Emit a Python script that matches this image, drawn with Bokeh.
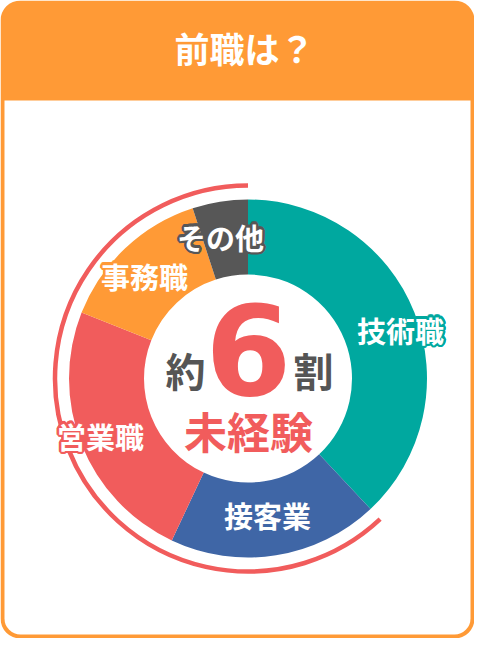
import numpy as np
from bokeh.plotting import figure
from bokeh.models import ColumnDataSource, Range1d
from bokeh.core.properties import value
from bokeh.embed import file_html
from bokeh.resources import INLINE

# data
jobs = ["技術職", "接客業", "営業職", "事務職", "その他"]
shares = [38, 19, 24, 14, 5]  # percent
colors = ["#00a89f", "#3f66a6", "#f15c5c", "#ff9a36", "#575757"]
title = "前職は？"
center_pre = "約"
center_num = "6"
center_post = "割"
center_sub = "未経験"

# layout (pixel coords, y measured from top)
W, H = 474, 638
cx, cy = 247.5, 378
r_in, r_out, r_ring = 104, 179, 193
label_xy = [(400, 329), (267, 514), (100, 435), (144, 275), (220, 236)]
JP = value("Noto Sans CJK JP")


def Y(v):
    return 654 - v


p = figure(width=W, height=H, output_backend="svg", toolbar_location=None,
           x_range=Range1d(0, W), y_range=Range1d(654 - H, 654),
           x_axis_type=None, y_axis_type=None, min_border=0)
p.grid.visible = False
p.outline_line_color = None
p.background_fill_color = "white"
p.border_fill_color = "white"

# card
p.quad(left=0, right=W, bottom=Y(H), top=Y(0), fill_color="#ff9a36", line_color=None,
       border_radius=20)
p.quad(left=4, right=W - 4, bottom=Y(H - 4), top=Y(100), fill_color="white",
       line_color=None, border_radius=(0, 0, 16, 16))
p.text(x=[244], y=[Y(47)], text=[title], text_font=JP, text_font_style="bold",
       text_font_size="35px", text_color="white", text_align="center",
       text_baseline="middle")

# donut (angles in radians, clockwise from 12 o'clock)
cum = np.cumsum([0] + shares)
end_a = np.radians([90 - 3.6 * c for c in cum[:-1]])
start_a = np.radians([90 - 3.6 * c for c in cum[1:]])
src = ColumnDataSource(dict(job=jobs, share=shares, color=colors,
                            start=start_a, end=end_a,
                            lx=[x for x, _ in label_xy],
                            ly=[Y(y) for _, y in label_xy]))
p.annular_wedge(x=cx, y=Y(cy), inner_radius=r_in, outer_radius=r_out,
                start_angle="start", end_angle="end",
                fill_color="color", line_color=None, source=src)

# ring marking the non-tech share
p.arc(x=cx, y=Y(cy), radius=r_ring, start_angle=np.pi / 2, end_angle=end_a[1],
      direction="anticlock", line_color="#f15c5c", line_width=4.5)

# labels with a coloured halo
for ang in np.linspace(0, 2 * np.pi, 16, endpoint=False):
    p.text(x="lx", y="ly", text="job", source=src, text_font=JP, text_font_style="bold",
           text_font_size="29px", text_color="color", text_align="center",
           text_baseline="middle", x_offset=2.5 * np.cos(ang), y_offset=2.5 * np.sin(ang))
p.text(x="lx", y="ly", text="job", source=src, text_font=JP, text_font_style="bold",
       text_font_size="29px", text_color="white", text_align="center",
       text_baseline="middle")

# centre text
p.text(x=[185, 313], y=[Y(369), Y(369)], text=[center_pre, center_post], text_font=JP,
       text_font_style="bold", text_font_size="40px", text_color="#555555",
       text_align="center", text_baseline="middle")
p.text(x=[248], y=[Y(348)], text=[center_num], text_font=value("DejaVu Sans"),
       text_font_style="bold", text_font_size="124px", text_color="#f15c5c",
       text_align="center", text_baseline="middle")
p.text(x=[248], y=[Y(429)], text=[center_sub], text_font=JP, text_font_style="bold",
       text_font_size="43px", text_color="#f15c5c", text_align="center",
       text_baseline="middle")

open("out.html", "w").write(file_html(p, INLINE))
